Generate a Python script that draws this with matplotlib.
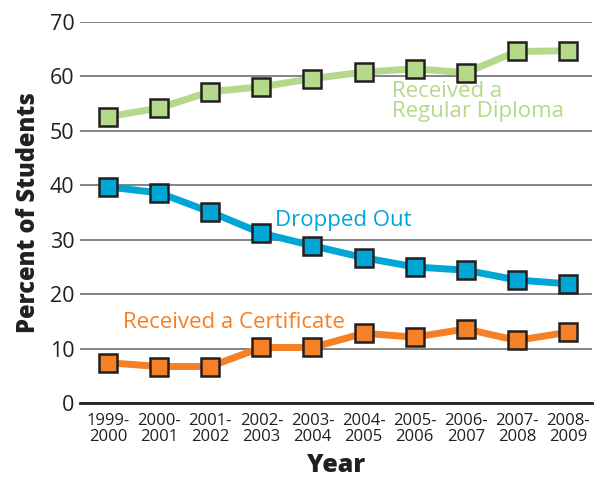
import numpy as np
import matplotlib.pyplot as plt

plt.rcParams['font.family'] = ['Open Sans', 'DejaVu Sans']

years = ['1999-\n2000', '2000-\n2001', '2001-\n2002', '2002-\n2003', '2003-\n2004',
         '2004-\n2005', '2005-\n2006', '2006-\n2007', '2007-\n2008', '2008-\n2009']
diploma = [52.6, 54.2, 57.2, 58.1, 59.6, 60.8, 61.4, 60.7, 64.6, 64.7]
dropped = [39.7, 38.6, 35.1, 31.2, 28.9, 26.7, 25.0, 24.4, 22.6, 21.9]
certificate = [7.4, 6.7, 6.7, 10.2, 10.2, 12.8, 12.1, 13.6, 11.5, 13.0]

green = '#b5d98a'
blue = '#00a6d6'
orange = '#f58025'
edge = '#231f20'

fig = plt.figure(figsize=(6.01, 4.78), dpi=100)
ax = fig.add_axes([80/601, 75/478, 512/601, 381/478])

x = np.arange(len(years))
for vals, col in [(diploma, green), (dropped, blue), (certificate, orange)]:
    ax.plot(x, vals, color=col, lw=5, marker='s', ms=12.5,
            mfc=col, mec=edge, mew=1.8, zorder=3, clip_on=False)

ax.set_xlim(-0.55, 9.47)
ax.set_ylim(0, 70)
ax.set_yticks(range(0, 71, 10))
ax.set_xticks(x)
ax.set_xticklabels(years, fontsize=12, color='#231f20', linespacing=1.0)
ax.tick_params(axis='y', length=0, pad=4, labelsize=15.5, labelcolor='#231f20')
ax.tick_params(axis='x', length=0, pad=7)

ax.yaxis.grid(True, color='#6d6e71', lw=1.2)
ax.set_axisbelow(True)
for s in ['top', 'right', 'left']:
    ax.spines[s].set_visible(False)
ax.spines['bottom'].set_color('#231f20')
ax.spines['bottom'].set_linewidth(2)

ax.set_ylabel('Percent of Students', fontsize=17, fontweight='heavy', labelpad=6, color='#231f20')
ax.set_xlabel('Year', fontsize=18, fontweight='heavy', labelpad=6, color='#231f20')

ax.text(5.56, 59.2, 'Received a\nRegular Diploma', color=green, fontsize=16,
        va='top', ha='left', linespacing=0.92)
ax.text(3.27, 33.6, 'Dropped Out', color=blue, fontsize=16, va='center', ha='left')
ax.text(0.29, 14.7, 'Received a Certificate', color=orange, fontsize=16, va='center', ha='left')

fig.savefig('out.png', dpi=100)
